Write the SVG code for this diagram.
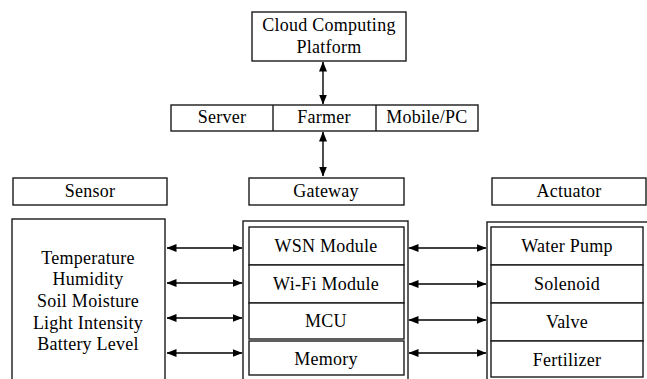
<svg xmlns="http://www.w3.org/2000/svg" width="647" height="379" viewBox="0 0 647 379">
<style>
.b{fill:#fff;stroke:#1a1a1a;stroke-width:1.4}
.t{font-family:'Liberation Serif','Times New Roman','DejaVu Serif',serif;font-size:18px;letter-spacing:0.25px;fill:#000;text-anchor:middle}
.c{stroke:#000;stroke-width:1.4;fill:none;marker-start:url(#ah);marker-end:url(#ah)}
</style>
<defs>
<marker id="ah" viewBox="0 0 10 8" refX="9.5" refY="4" markerWidth="10" markerHeight="8" markerUnits="userSpaceOnUse" orient="auto-start-reverse">
<path d="M0,0 L10,4 L0,8 z" fill="#000"/>
</marker>
</defs>
<rect width="647" height="379" fill="#fff"/>
<g id="cloud">
<rect class="b" x="252" y="12" width="154" height="49"/>
<text class="t" x="329" y="31">Cloud Computing</text>
<text class="t" x="329" y="53">Platform</text>
</g>
<g id="farmer-row">
<rect class="b" x="171" y="105" width="307" height="26"/>
<line x1="273" y1="105" x2="273" y2="131" stroke="#1a1a1a" stroke-width="1.4"/>
<line x1="376" y1="105" x2="376" y2="131" stroke="#1a1a1a" stroke-width="1.4"/>
<text class="t" x="222" y="123">Server</text>
<text class="t" x="324" y="123">Farmer</text>
<text class="t" x="427" y="123">Mobile/PC</text>
</g>
<g id="sensor-label">
<rect class="b" x="13" y="178" width="154" height="27"/>
<text class="t" x="90" y="197">Sensor</text>
</g>
<g id="gateway-label">
<rect class="b" x="249" y="178" width="155" height="27"/>
<text class="t" x="326" y="197">Gateway</text>
</g>
<g id="actuator-label">
<rect class="b" x="492" y="178" width="154" height="27"/>
<text class="t" x="569" y="197">Actuator</text>
</g>
<g id="sensor">
<rect class="b" x="12" y="219" width="153" height="170"/>
<text class="t" x="88" y="264">Temperature</text>
<text class="t" x="88" y="285">Humidity</text>
<text class="t" x="88" y="307">Soil Moisture</text>
<text class="t" x="88" y="329">Light Intensity</text>
<text class="t" x="88" y="350">Battery Level</text>
</g>
<g id="gateway">
<rect class="b" x="243" y="221" width="165" height="170"/>
<rect class="b" x="249" y="227" width="155" height="38"/>
<rect class="b" x="249" y="265" width="155" height="38"/>
<rect class="b" x="249" y="303" width="155" height="36"/>
<rect class="b" x="249" y="341" width="155" height="34"/>
<text class="t" x="326" y="252">WSN Module</text>
<text class="t" x="326" y="290">Wi-Fi Module</text>
<text class="t" x="326" y="327">MCU</text>
<text class="t" x="326" y="365">Memory</text>
</g>
<g id="actuator">
<rect class="b" x="487" y="222" width="170" height="170"/>
<rect class="b" x="491" y="227" width="152" height="38"/>
<rect class="b" x="491" y="265" width="152" height="38"/>
<rect class="b" x="491" y="303" width="152" height="38"/>
<rect class="b" x="491" y="341" width="152" height="36"/>
<text class="t" x="567" y="252">Water Pump</text>
<text class="t" x="567" y="290">Solenoid</text>
<text class="t" x="567" y="328">Valve</text>
<text class="t" x="567" y="366">Fertilizer</text>
</g>
<g id="connectors">
<line class="c" x1="323" y1="62" x2="323" y2="104"/>
<line class="c" x1="323" y1="132" x2="323" y2="176"/>
<line class="c" x1="167" y1="248" x2="242" y2="248"/>
<line class="c" x1="167" y1="283" x2="242" y2="283"/>
<line class="c" x1="167" y1="318" x2="242" y2="318"/>
<line class="c" x1="167" y1="353" x2="242" y2="353"/>
<line class="c" x1="409" y1="248" x2="486" y2="248"/>
<line class="c" x1="409" y1="284" x2="486" y2="284"/>
<line class="c" x1="409" y1="320" x2="486" y2="320"/>
<line class="c" x1="409" y1="353" x2="486" y2="353"/>
</g>
</svg>
